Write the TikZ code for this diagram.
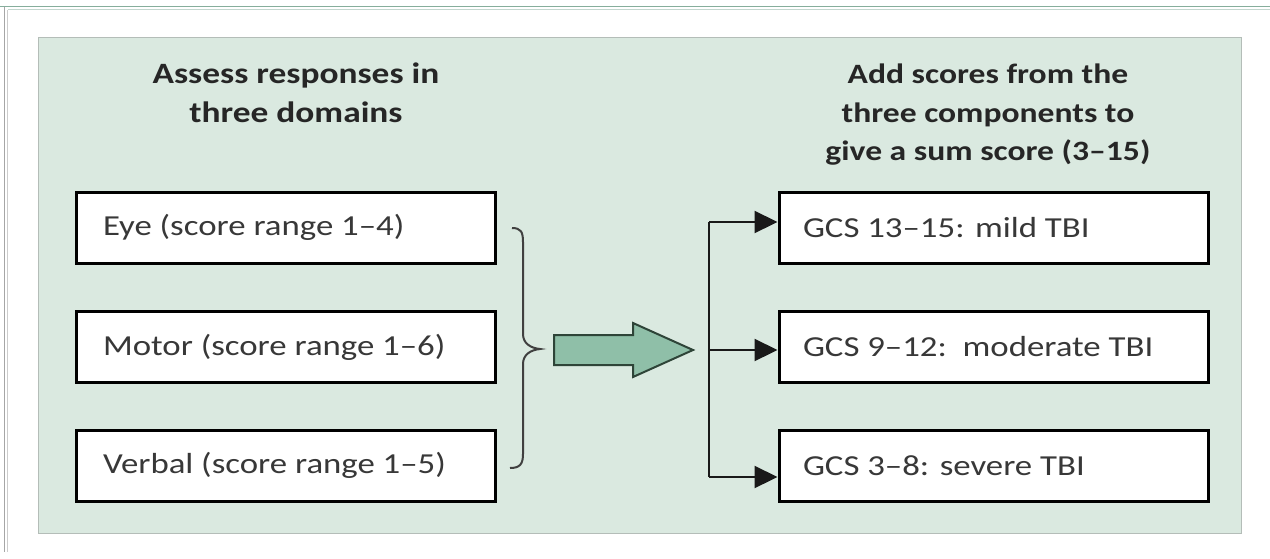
\documentclass[tikz,border=0pt]{standalone}
\usepackage{fontspec}
\setmainfont{Carlito}[FakeStretch=1.2]
\usepackage{tikz}
\usetikzlibrary{arrows.meta}
\definecolor{panel}{HTML}{DAE9E0}
\definecolor{panelline}{HTML}{B4BDB8}
\definecolor{frameline}{HTML}{86AE9C}
\definecolor{arrowfill}{HTML}{8FBFA8}
\definecolor{arrowline}{HTML}{2E4438}
\begin{document}
\begin{tikzpicture}[x=1pt,y=-1pt,
  scorebox/.style={draw=black,line width=3pt,fill=white,text=black!78,
    font=\fontsize{29}{36}\selectfont,minimum height=71pt,inner xsep=27pt,
    text width=365pt,align=flush left},
  gcsbox/.style={scorebox,inner xsep=24pt,text width=381pt},
  heading/.style={font=\fontsize{29.5}{38.5}\selectfont\bfseries,text=black!85,
    align=center,inner sep=0pt,anchor=north},
  conn/.style={line width=2.2pt,black!90}]
\useasboundingbox (0,0) rectangle (1270,558);
% outer frame
\draw[frameline,line width=1.5pt] (0,6.5) -- (1270,6.5);
\draw[frameline!50,line width=1.2pt] (8,9.5) -- (1270,9.5);
\draw[black!35,line width=1.2pt] (4.5,7) -- (4.5,552);
\draw[black!20,line width=1pt] (7.5,10) -- (7.5,552);
% green panel
\draw[panelline,fill=panel,line width=1pt] (38,37) rectangle (1241,533);
\node[heading] (H1) at (296,63) {Assess responses in\\three domains};
\node[heading,font=\fontsize{28}{38.5}\selectfont\bfseries] (H2) at (988,64)
  {Add scores from the\\three components to\\give a sum score (3--15)};
\node[scorebox] (Eye) at (285.5,227.5) {Eye (score range 1--4)};
\node[scorebox] (Mot) at (285.5,347) {Motor (score range 1--6)};
\node[scorebox] (Ver) at (285.5,465.5) {Verbal (score range 1--5)};
\node[gcsbox] (Mild) at (993.5,227.5) {GCS 13--15: mild TBI};
\node[gcsbox] (Mod) at (993.5,347) {GCS 9--12:\ \ moderate TBI};
\node[gcsbox] (Sev) at (993.5,465.5) {GCS 3--8: severe TBI};
% brace
\draw[black!75,line width=2pt] (512,228) .. controls (521,228) and (523,232) .. (523,242)
  -- (523,334) .. controls (523,343) and (530,348) .. (540,349)
  .. controls (530,350) and (523,355) .. (523,364)
  -- (523,454) .. controls (523,464) and (520,468) .. (510,468);
% sum arrow
\coordinate (tip) at (693,350);
\draw[arrowline,fill=arrowfill,line width=2pt,line join=miter]
  (554,335) -- (633,335) -- (633,323) -- (tip) -- (633,377) -- (633,365) -- (554,365) -- cycle;
\coordinate (B1) at (709,222);
\coordinate (B2) at (709,350);
\coordinate (B3) at (709,477);
\draw[conn] (B1) -- (B3);
\draw[conn,-{Triangle[length=23pt,width=22pt]}] (B1) -- (B1 -| Mild.west);
\draw[conn,-{Triangle[length=23pt,width=22pt]}] (B2) -- (B2 -| Mod.west);
\draw[conn,-{Triangle[length=23pt,width=22pt]}] (B3) -- (B3 -| Sev.west);
\end{tikzpicture}
\end{document}
